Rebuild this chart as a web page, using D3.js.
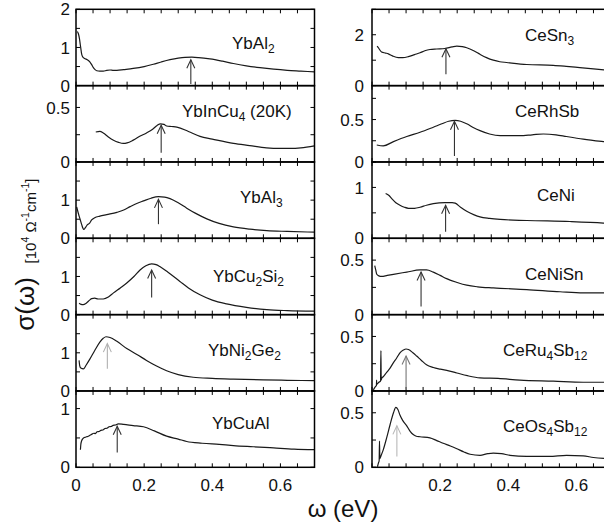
<!DOCTYPE html>
<html><head><meta charset="utf-8">
<script src="https://cdn.jsdelivr.net/npm/d3@7"></script>
<style>html,body{margin:0;padding:0;background:#fff}svg{display:block}</style>
</head><body>
<svg id="c" width="604" height="529"></svg>
<script>
// ---------------- data ----------------
const YbAl2 = [[0.004,1.42],[0.007,1.36],[0.010,1.24],[0.013,1.05],[0.017,0.81],[0.021,0.74],[0.025,0.71],[0.033,0.68],[0.040,0.63],[0.046,0.55],[0.051,0.47],[0.056,0.42],[0.061,0.39],[0.07,0.38],[0.08,0.38],[0.09,0.40],[0.10,0.41],[0.11,0.40],[0.12,0.40],[0.14,0.42],[0.168,0.45],[0.20,0.50],[0.227,0.56],[0.25,0.62],[0.276,0.68],[0.30,0.72],[0.32,0.74],[0.34,0.745],[0.36,0.735],[0.393,0.70],[0.43,0.64],[0.462,0.58],[0.50,0.52],[0.54,0.47],[0.58,0.43],[0.62,0.40],[0.66,0.38],[0.70,0.36]];
const YbInCu4 = [[0.058,0.275],[0.07,0.28],[0.08,0.266],[0.095,0.23],[0.11,0.20],[0.125,0.18],[0.139,0.17],[0.15,0.175],[0.168,0.20],[0.19,0.24],[0.207,0.266],[0.225,0.30],[0.238,0.335],[0.248,0.35],[0.258,0.345],[0.266,0.33],[0.28,0.325],[0.296,0.32],[0.33,0.28],[0.364,0.235],[0.40,0.21],[0.462,0.17],[0.51,0.15],[0.559,0.13],[0.60,0.125],[0.628,0.125],[0.66,0.13],[0.70,0.148]];
const YbAl3 = [[0.002,0.82],[0.007,0.65],[0.012,0.50],[0.017,0.35],[0.020,0.27],[0.023,0.23],[0.027,0.27],[0.033,0.35],[0.040,0.40],[0.046,0.48],[0.055,0.54],[0.07,0.58],[0.09,0.62],[0.12,0.68],[0.14,0.74],[0.159,0.83],[0.18,0.92],[0.198,0.98],[0.22,1.05],[0.242,1.09],[0.26,1.08],[0.276,1.04],[0.30,0.93],[0.325,0.79],[0.35,0.66],[0.384,0.51],[0.42,0.39],[0.462,0.30],[0.51,0.24],[0.56,0.20],[0.62,0.18],[0.70,0.16]];
const YbCu2Si2 = [[0.009,0.30],[0.015,0.27],[0.021,0.26],[0.03,0.30],[0.04,0.38],[0.046,0.42],[0.055,0.43],[0.065,0.41],[0.08,0.41],[0.095,0.46],[0.11,0.57],[0.13,0.70],[0.149,0.83],[0.17,1.00],[0.188,1.17],[0.205,1.28],[0.222,1.33],[0.235,1.31],[0.246,1.26],[0.27,1.11],[0.305,0.87],[0.33,0.70],[0.364,0.52],[0.40,0.38],[0.442,0.28],[0.50,0.19],[0.56,0.13],[0.62,0.105],[0.70,0.09]];
const YbNi2Ge2 = [[0.009,0.80],[0.011,0.66],[0.014,0.60],[0.022,0.58],[0.03,0.68],[0.041,0.84],[0.055,1.06],[0.07,1.28],[0.08,1.38],[0.088,1.42],[0.10,1.40],[0.12,1.30],[0.149,1.11],[0.18,0.95],[0.207,0.80],[0.235,0.66],[0.266,0.53],[0.30,0.43],[0.344,0.36],[0.40,0.33],[0.462,0.31],[0.55,0.29],[0.62,0.28],[0.70,0.27]];
const YbCuAl = [[0.013,0.30],[0.014,0.38],[0.016,0.44],[0.019,0.48],[0.022,0.50],[0.026,0.51],[0.031,0.52],[0.036,0.53],[0.041,0.545],[0.047,0.565],[0.052,0.58],[0.057,0.575],[0.062,0.605],[0.068,0.61],[0.073,0.63],[0.079,0.635],[0.085,0.66],[0.091,0.665],[0.097,0.69],[0.103,0.695],[0.109,0.715],[0.116,0.72],[0.124,0.74],[0.14,0.73],[0.168,0.71],[0.198,0.69],[0.23,0.62],[0.266,0.53],[0.30,0.48],[0.325,0.44],[0.37,0.41],[0.42,0.39],[0.462,0.37],[0.52,0.35],[0.58,0.33],[0.64,0.31],[0.70,0.30]];
const CeSn3 = [[0.015,1.55],[0.019,1.48],[0.028,1.32],[0.04,1.28],[0.048,1.25],[0.06,1.17],[0.077,1.10],[0.09,1.10],[0.107,1.14],[0.125,1.22],[0.141,1.29],[0.155,1.37],[0.17,1.42],[0.19,1.44],[0.214,1.46],[0.235,1.52],[0.249,1.55],[0.265,1.53],[0.278,1.49],[0.30,1.36],[0.317,1.23],[0.336,1.10],[0.356,1.00],[0.375,0.94],[0.395,0.91],[0.454,0.83],[0.532,0.80],[0.57,0.76],[0.61,0.71],[0.65,0.66],[0.70,0.60]];
const CeRhSb = [[0.014,0.20],[0.033,0.19],[0.063,0.24],[0.102,0.30],[0.141,0.35],[0.18,0.41],[0.205,0.45],[0.225,0.48],[0.244,0.49],[0.26,0.48],[0.278,0.45],[0.30,0.40],[0.317,0.37],[0.345,0.33],[0.376,0.31],[0.434,0.31],[0.47,0.32],[0.503,0.33],[0.54,0.32],[0.571,0.30],[0.62,0.27],[0.679,0.24],[0.70,0.23]];
const CeNi = [[0.04,0.88],[0.05,0.84],[0.058,0.78],[0.07,0.70],[0.082,0.65],[0.095,0.61],[0.107,0.59],[0.125,0.59],[0.141,0.61],[0.16,0.65],[0.18,0.68],[0.214,0.70],[0.235,0.70],[0.244,0.69],[0.26,0.61],[0.278,0.53],[0.30,0.46],[0.317,0.42],[0.345,0.39],[0.376,0.37],[0.454,0.35],[0.581,0.33],[0.679,0.30],[0.70,0.29]];
const CeNiSn = [[0.008,0.45],[0.011,0.41],[0.014,0.37],[0.02,0.355],[0.028,0.35],[0.045,0.36],[0.063,0.37],[0.102,0.39],[0.141,0.41],[0.16,0.41],[0.18,0.39],[0.20,0.36],[0.219,0.33],[0.25,0.295],[0.278,0.27],[0.31,0.255],[0.356,0.245],[0.454,0.23],[0.552,0.21],[0.62,0.20],[0.70,0.20]];
const CeRu4Sb12 = [[0.004,0.01],[0.010,0.04],[0.013,0.05],[0.0135,0.10],[0.014,0.06],[0.020,0.08],[0.025,0.09],[0.0262,0.37],[0.027,0.10],[0.029,0.12],[0.033,0.13],[0.043,0.17],[0.053,0.21],[0.063,0.26],[0.072,0.30],[0.082,0.35],[0.092,0.375],[0.10,0.385],[0.107,0.38],[0.12,0.35],[0.131,0.32],[0.145,0.28],[0.16,0.24],[0.18,0.215],[0.20,0.20],[0.225,0.185],[0.249,0.165],[0.28,0.14],[0.317,0.12],[0.37,0.115],[0.434,0.10],[0.532,0.09],[0.62,0.08],[0.70,0.08]];
const CeOs4Sb12 = [[0.016,0.005],[0.019,0.04],[0.021,0.06],[0.022,0.24],[0.023,0.08],[0.027,0.11],[0.033,0.16],[0.043,0.27],[0.053,0.39],[0.063,0.50],[0.07,0.55],[0.076,0.53],[0.082,0.48],[0.09,0.43],[0.102,0.38],[0.112,0.33],[0.121,0.30],[0.13,0.285],[0.141,0.28],[0.17,0.27],[0.19,0.245],[0.209,0.22],[0.23,0.195],[0.249,0.17],[0.27,0.14],[0.288,0.12],[0.317,0.11],[0.34,0.125],[0.356,0.13],[0.38,0.125],[0.405,0.11],[0.454,0.10],[0.52,0.10],[0.571,0.11],[0.62,0.105],[0.65,0.09],[0.70,0.08]];

// panel names (subscripts after "_")
const leftNames  = ["YbAl_2","YbInCu_4 (20K)","YbAl_3","YbCu_2Si_2","YbNi_2Ge_2","YbCuAl"];
const rightNames = ["CeSn_3","CeRhSb","CeNi","CeNiSn","CeRu_4Sb_12","CeOs_4Sb_12"];
const leftSeries  = [YbAl2, YbInCu4, YbAl3, YbCu2Si2, YbNi2Ge2, YbCuAl];
const rightSeries = [CeSn3, CeRhSb, CeNi, CeNiSn, CeRu4Sb12, CeOs4Sb12];
// y-axis maxima
const leftYMax  = [2, 0.7, 2, 2, 2, 1.3];
const rightYMax = [3, 0.9, 1.5, 0.7, 0.7, 0.7];
// y tick labels and minor tick step
const leftYLabels  = [[0,1,2],[0,0.5],[0,1],[0,1],[0,1],[0,1]];
const rightYLabels = [[0,2],[0,0.5],[0,1],[0,0.5],[0,0.5],[0,0.5]];
const leftYStep  = [0.5,0.25,0.5,0.5,0.5,0.5];
const rightYStep = [1,0.25,0.5,0.25,0.25,0.25];
// arrows: [omega, from, to]
const leftArrows  = [[0.337,0.04,0.68],[0.25,0.084,0.337],[0.242,0.37,1.02],[0.222,0.45,1.17],[0.092,0.58,1.24],[0.121,0.25,0.70]];
const rightArrows = [[0.217,0.45,1.45],[0.242,0.07,0.48],[0.216,0.13,0.65],[0.144,0.075,0.39],[0.10,0.015,0.32],[0.073,0.10,0.38]];
const leftArrowColors  = ["#333","#333","#333","#333","#b0b0b0","#333"];
const rightArrowColors = ["#333","#333","#333","#333","#777","#b8b8b8"];
// x ticks
const xLabelsLeft  = [0,0.2,0.4,0.6];
const xLabelsRight = [0.2,0.4,0.6];

// ---------------- layout ----------------
const FONT = "'Liberation Sans', Arial, Helvetica, sans-serif";
const TOP = 9.3, BOTTOM = 467.3, NP = 6, PH = (BOTTOM-TOP)/NP;
const cols = [
  {x0:76, x1:314.5, names:leftNames, series:leftSeries, ymax:leftYMax, ylab:leftYLabels, ystep:leftYStep,
   arrows:leftArrows, acol:leftArrowColors, xlab:xLabelsLeft, labEnd:70,
   namePos:[[232,39.7],[182,31.5],[240,41],[213,43.4],[208,41.5],[212,38.5]]},
  {x0:372, x1:610.5, names:rightNames, series:rightSeries, ymax:rightYMax, ylab:rightYLabels, ystep:rightYStep,
   arrows:rightArrows, acol:rightArrowColors, xlab:xLabelsRight, labEnd:364,
   namePos:[[525,31.4],[515,31.5],[537,38.6],[525,41.5],[503,41.5],[503,41.5]]}
];

const svg = d3.select("#c");
const defs = svg.append("defs");

cols.forEach((c, ci) => {
  const x = d3.scaleLinear().domain([0,0.7]).range([c.x0, c.x1]);
  const xt = d3.range(0, 0.7001, 0.05);
  for (let p = 0; p < NP; p++) {
    const yTop = TOP + p*PH, yBot = TOP + (p+1)*PH;
    const y = d3.scaleLinear().domain([0, c.ymax[p]]).range([yBot, yTop]);
    const g = svg.append("g");
    const cid = "clip"+ci+"_"+p;
    defs.append("clipPath").attr("id", cid).append("rect")
      .attr("x", c.x0).attr("y", yTop).attr("width", c.x1-c.x0).attr("height", yBot-yTop);
    xt.forEach(v => {
      g.append("line").attr("x1", x(v)).attr("x2", x(v)).attr("y1", yBot).attr("y2", yBot-4)
        .attr("stroke","#000").attr("stroke-width",1);
      g.append("line").attr("x1", x(v)).attr("x2", x(v)).attr("y1", yTop).attr("y2", yTop+4)
        .attr("stroke","#000").attr("stroke-width",1);
    });
    const yt = d3.range(0, c.ymax[p]+1e-9, c.ystep[p]);
    yt.forEach(v => {
      g.append("line").attr("x1", c.x0).attr("x2", c.x0+4).attr("y1", y(v)).attr("y2", y(v))
        .attr("stroke","#000").attr("stroke-width",1);
      g.append("line").attr("x1", c.x1).attr("x2", c.x1-4).attr("y1", y(v)).attr("y2", y(v))
        .attr("stroke","#000").attr("stroke-width",1);
    });
    c.ylab[p].forEach(v => {
      g.append("text").attr("x", c.labEnd).attr("y", y(v)).attr("dy","0.36em")
        .attr("text-anchor","end").attr("font-family",FONT).attr("font-size",17).attr("fill","#111")
        .text(String(v));
    });
    const line = d3.line().x(d => x(d[0])).y(d => y(d[1])).curve(d3.curveMonotoneX);
    g.append("path").attr("d", line(c.series[p])).attr("fill","none")
      .attr("stroke","#1a1a1a").attr("stroke-width",1.2).attr("stroke-linejoin","round")
      .attr("clip-path","url(#"+cid+")");
    const a = c.arrows[p];
    const ax = x(a[0]), ay0 = y(a[1]), ay1 = y(a[2]);
    const ag = g.append("g").attr("stroke", c.acol[p]).attr("stroke-width",1.1).attr("fill","none");
    ag.append("line").attr("x1",ax).attr("x2",ax).attr("y1",ay0).attr("y2",ay1);
    ag.append("path").attr("d", `M${ax-4},${ay1+8.5}L${ax},${ay1}L${ax+4},${ay1+8.5}`);
    g.append("rect").attr("x", c.x0).attr("y", yTop).attr("width", c.x1-c.x0).attr("height", yBot-yTop)
      .attr("fill","none").attr("stroke","#000").attr("stroke-width",1.5);
    // compound name with subscripts
    const np = c.namePos[p];
    const t = g.append("text").attr("x", np[0]).attr("y", yTop + np[1])
      .attr("font-family",FONT).attr("font-size",17).attr("fill","#111");
    const parts = c.names[p].split(/_(\d+)/);
    let shift = 0;
    parts.forEach((s, i) => {
      if (!s) return;
      if (i % 2 === 1) {
        t.append("tspan").attr("font-size",12).attr("dy",4 - shift).text(s);
        shift = 4;
      } else {
        t.append("tspan").attr("dy",-shift).text(s);
        shift = 0;
      }
    });
  }
  c.xlab.forEach(v => {
    svg.append("text").attr("x", x(v)).attr("y", 491).attr("text-anchor","middle")
      .attr("font-family",FONT).attr("font-size",17).attr("fill","#111").text(String(v));
  });
});

// axis titles
svg.append("text").attr("x", 343).attr("y", 517).attr("text-anchor","middle")
  .attr("font-family",FONT).attr("font-size",24).attr("fill","#111").text("\u03c9 (eV)");

const ys = svg.append("text").attr("transform","translate(34,304) rotate(-90)")
  .attr("text-anchor","middle").attr("font-family",FONT).attr("font-size",26).attr("fill","#111")
  .text("\u03c3(\u03c9)");
const yb = svg.append("text").attr("transform","translate(36,221) rotate(-90)")
  .attr("text-anchor","middle").attr("font-family",FONT).attr("fill","#111").attr("font-size",15);
yb.append("tspan").text("[10");
yb.append("tspan").attr("font-size",10.5).attr("dy",-7).text("4");
yb.append("tspan").attr("dy",7).text(" \u03a9");
yb.append("tspan").attr("font-size",10.5).attr("dy",-7).text("-1");
yb.append("tspan").attr("dy",7).text("cm");
yb.append("tspan").attr("font-size",10.5).attr("dy",-7).text("-1");
yb.append("tspan").attr("dy",7).text("]");
</script>
</body></html>
